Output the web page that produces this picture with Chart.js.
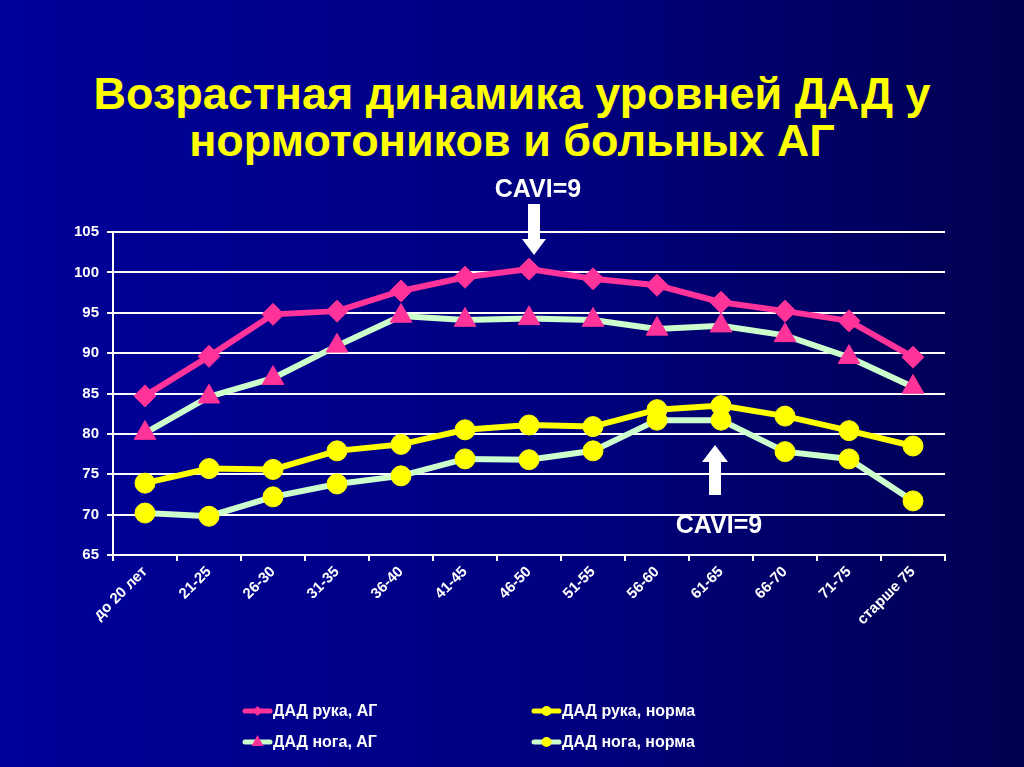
<!DOCTYPE html>
<html lang="ru">
<head>
    <meta charset="UTF-8">
    <title>Возрастная динамика уровней ДАД</title>
    <script src="https://cdn.jsdelivr.net/npm/chart.js"></script>
    <style>
        html, body { margin: 0; padding: 0; }
        body {
            width: 1024px; height: 767px; overflow: hidden; position: relative;
            background: linear-gradient(to right, #00009a 0%, #000080 55%, #000050 100%);
            font-family: "Liberation Sans", Arial, sans-serif;
        }
        .title {
            position: absolute; left: 0; top: 70px; width: 1024px;
            text-align: center; color: #ffff00; font-weight: bold;
            font-size: 45px; line-height: 47px;
        }
        #wrap { position: absolute; left: 0; top: 0; width: 1024px; height: 767px; }
    </style>
</head>
<body>
    <div class="title">Возрастная динамика уровней ДАД у<br>нормотоников и больных АГ</div>
    <div id="wrap"><canvas id="dadChart" width="1024" height="767"></canvas></div>

    <script>
    // категории (возраст)
    const ageGroups = ["до 20 лет", "21-25", "26-30", "31-35", "36-40", "41-45", "46-50",
                       "51-55", "56-60", "61-65", "66-70", "71-75", "старше 75"];

    // значения ДАД, мм рт. ст.
    const armHypertension = [84.7, 89.6, 94.8, 95.2, 97.7, 99.4, 100.4, 99.2, 98.4, 96.3, 95.2, 94.0, 89.5];
    const legHypertension = [80.1, 84.6, 86.9, 90.9, 94.6, 94.1, 94.3, 94.1, 93.0, 93.4, 92.2, 89.5, 85.8];
    const armNormal = [73.9, 75.7, 75.6, 77.9, 78.7, 80.5, 81.1, 80.9, 83.0, 83.5, 82.2, 80.4, 78.5];
    const legNormal = [70.2, 69.8, 72.2, 73.8, 74.8, 76.9, 76.8, 77.9, 81.7, 81.7, 77.8, 76.9, 71.7];

    const yTicks = [65, 70, 75, 80, 85, 90, 95, 100, 105];

    const PINK = "#ff3399";
    const MINT = "#ccffcc";
    const YELLOW = "#ffff00";
    const FONT = "'Liberation Sans', Arial, sans-serif";

    // ✅ стрелки CAVI=9
    const caviPlugin = {
        id: "cavi",
        afterDatasetsDraw(chart) {
            const ctx = chart.ctx;
            const x = chart.scales.x;
            ctx.save();
            ctx.fillStyle = "#ffffff";
            ctx.font = "bold 25px " + FONT;
            ctx.textAlign = "center";
            ctx.textBaseline = "middle";

            // вниз, над 46-50
            let cx = x.getPixelForValue(6) + 5;
            let top = 204, tip = 255;
            ctx.fillText("CAVI=9", cx + 4, 190);
            ctx.fillRect(cx - 6, top, 12, 36);
            ctx.beginPath();
            ctx.moveTo(cx - 12, top + 35);
            ctx.lineTo(cx + 12, top + 35);
            ctx.lineTo(cx, tip);
            ctx.closePath();
            ctx.fill();

            // вверх, под 61-65
            cx = x.getPixelForValue(9) - 6;
            tip = 445; let bottom = 495;
            ctx.fillRect(cx - 6, tip + 16, 12, bottom - tip - 16);
            ctx.beginPath();
            ctx.moveTo(cx - 13, tip + 17);
            ctx.lineTo(cx + 13, tip + 17);
            ctx.lineTo(cx, tip);
            ctx.closePath();
            ctx.fill();
            ctx.fillText("CAVI=9", cx + 4, 526);
            ctx.restore();
        }
    };

    function legendMarker(ctx, style, color, px, py) {
        ctx.fillStyle = color;
        ctx.beginPath();
        if (style === "triangle") {
            ctx.moveTo(px, py - 7);
            ctx.lineTo(px + 6, py + 4);
            ctx.lineTo(px - 6, py + 4);
        } else if (style === "rectRot") {
            ctx.moveTo(px, py - 5);
            ctx.lineTo(px + 5, py);
            ctx.lineTo(px, py + 5);
            ctx.lineTo(px - 5, py);
        } else {
            ctx.arc(px, py, 5, 0, Math.PI * 2);
        }
        ctx.closePath();
        ctx.fill();
    }

    // ✅ легенда в две колонки
    const legendPlugin = {
        id: "gridLegend",
        afterDraw(chart) {
            const ctx = chart.ctx;
            const spots = [[243, 711], [243, 742], [532, 711], [532, 742]];
            ctx.save();
            chart.data.datasets.forEach((ds, i) => {
                const [lx, ly] = spots[i];
                const w = 29;
                ctx.strokeStyle = ds.borderColor;
                ctx.lineWidth = 5;
                ctx.lineCap = "round";
                ctx.beginPath();
                ctx.moveTo(lx + 2, ly);
                ctx.lineTo(lx + w - 2, ly);
                ctx.stroke();
                legendMarker(ctx, ds.pointStyle, ds.pointBackgroundColor, lx + w / 2, ly);
                ctx.fillStyle = "#ffffff";
                ctx.font = "bold 16px " + FONT;
                ctx.textAlign = "left";
                ctx.textBaseline = "middle";
                ctx.fillText(ds.label, lx + w + 1, ly + 1);
            });
            ctx.restore();
        }
    };

    function makeSet(label, data, lineColor, pointColor, style, radius) {
        return {
            label: label,
            data: data,
            borderColor: lineColor,
            borderWidth: 6,
            pointStyle: style,
            pointRadius: radius,
            pointHoverRadius: radius,
            pointBackgroundColor: pointColor,
            pointBorderColor: pointColor,
            pointBorderWidth: 1,
            tension: 0,
            fill: false
        };
    }

    new Chart(document.getElementById("dadChart"), {
        type: "line",
        data: {
            labels: ageGroups,
            datasets: [
                makeSet("ДАД рука, АГ", armHypertension, PINK, PINK, "rectRot", 11),
                makeSet("ДАД нога, АГ", legHypertension, MINT, PINK, "triangle", 12.5),
                makeSet("ДАД рука, норма", armNormal, YELLOW, YELLOW, "circle", 10),
                makeSet("ДАД нога, норма", legNormal, MINT, YELLOW, "circle", 10)
            ]
        },
        options: {
            responsive: false,
            animation: false,
            layout: { padding: { left: 63, right: 79, top: 232, bottom: 122 } },
            plugins: {
                legend: { display: false },
                tooltip: { enabled: false }
            },
            scales: {
                x: {
                    offset: true,
                    grid: {
                        offset: true, drawOnChartArea: false, drawTicks: true,
                        tickLength: 6, color: "#ffffff", lineWidth: 2
                    },
                    border: { color: "#ffffff", width: 2 },
                    ticks: {
                        color: "#ffffff", maxRotation: 45, minRotation: 45, autoSkip: false,
                        font: { family: FONT, size: 15, weight: "bold" }, padding: 2
                    },
                    afterFit(scale) { scale.height = 90; }
                },
                y: {
                    min: 65, max: 105,
                    afterBuildTicks(scale) { scale.ticks = yTicks.map(v => ({ value: v })); },
                    grid: { color: "#ffffff", lineWidth: 2, tickLength: 6 },
                    border: { color: "#ffffff", width: 2 },
                    ticks: {
                        color: "#ffffff", padding: 8,
                        font: { family: FONT, size: 15, weight: "bold" }
                    },
                    afterFit(scale) { scale.width = 50; }
                }
            }
        },
        plugins: [caviPlugin, legendPlugin]
    });
    </script>
</body>
</html>
